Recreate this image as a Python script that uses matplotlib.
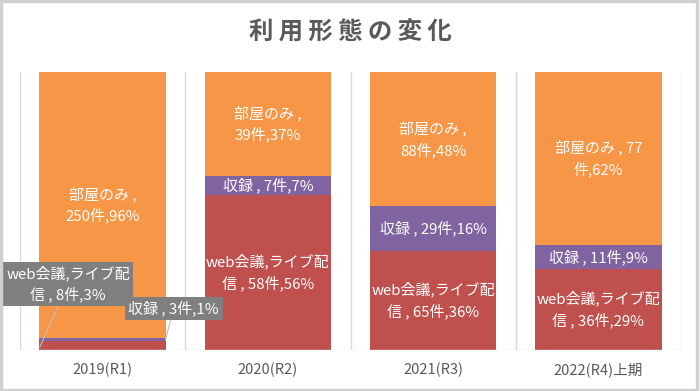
import numpy as np
import matplotlib.pyplot as plt
from matplotlib.patches import Rectangle

plt.rcParams['font.family'] = ['Noto Sans CJK JP', 'DejaVu Sans']

# data
years = ['2019(R1)', '2020(R2)', '2021(R3)', '2022(R4)上期']
series = ['web会議,ライブ配信', '収録', '部屋のみ']
web = [8, 58, 65, 36]
rec = [3, 7, 29, 11]
room = [250, 39, 88, 77]
web_pct = [3, 56, 36, 29]
rec_pct = [1, 7, 16, 9]
room_pct = [96, 37, 48, 62]

colors = ['#C0504D', '#8064A2', '#F79646']

# label text, wrapped the same way as the original
web_lbl = ['web会議,ライブ配\n信 , %d件,%d%%' % (v, p) for v, p in zip(web, web_pct)]
rec_lbl = ['収録 , %d件,%d%%' % (v, p) for v, p in zip(rec, rec_pct)]
room_lbl = ['部屋のみ ,\n%d件,%d%%' % (room[0], room_pct[0]),
            '部屋のみ ,\n%d件,%d%%' % (room[1], room_pct[1]),
            '部屋のみ ,\n%d件,%d%%' % (room[2], room_pct[2]),
            '部屋のみ , %d\n件,%d%%' % (room[3], room_pct[3])]

fig = plt.figure(figsize=(7, 3.91), dpi=100, facecolor='w')
ax = fig.add_axes([20/700, 1-350/391, 661/700, 278/391])

x = np.arange(len(years))
tot = np.array(web) + np.array(rec) + np.array(room)
w = 100 * np.array(web) / tot
r = 100 * np.array(rec) / tot
m = 100 * np.array(room) / tot

bw = 0.765
ax.bar(x, w, bw, color=colors[0], zorder=2)
ax.bar(x, r, bw, bottom=w, color=colors[1], zorder=2)
ax.bar(x, m, bw, bottom=w + r, color=colors[2], zorder=2)

ax.set_xlim(-0.5, 3.5)
ax.set_ylim(0, 100)
for b in np.arange(-0.5, 4, 1):
    ax.axvline(b, color='#D9D9D9', lw=1, zorder=1)
ax.axhline(0, color='#D9D9D9', lw=1, zorder=3)
for s in ax.spines.values():
    s.set_visible(False)
ax.set_yticks([])
ax.set_xticks(x)
ax.set_xticklabels(years, fontsize=10.5, color='#595959')
ax.tick_params(axis='x', length=0, pad=9)

fs = 10.8
tkw = dict(ha='center', va='center', color='white', fontsize=fs, linespacing=1.45, zorder=4)
for i in range(len(years)):
    ax.text(x[i], w[i] + r[i] + m[i] / 2, room_lbl[i], **tkw)
    if i > 0:
        ax.text(x[i], w[i] + r[i] / 2, rec_lbl[i], **tkw)
        ax.text(x[i], w[i] / 2, web_lbl[i], **tkw)

# 2019 small segments: callout boxes
box = dict(boxstyle='square,pad=0.25', fc='#7F7F7F', ec='none')
ln = dict(arrowstyle='-', color='#BFBFBF', lw=0.8, shrinkA=0, shrinkB=0)
ax.annotate(web_lbl[0], xy=(x[0] - 0.38, w[0] / 3), xytext=(-0.21, 23.7),
            ha='center', va='center', color='white', fontsize=fs, linespacing=1.45,
            bbox=box, arrowprops=ln, zorder=5)
ax.annotate(rec_lbl[0], xy=(x[0] + 0.38, w[0] + r[0] / 2), xytext=(0.43, 15.0),
            ha='center', va='center', color='white', fontsize=fs,
            bbox=box, arrowprops=ln, zorder=5)

fig.text(0.5, 1 - 33/391, '利 用 形 態 の 変 化', ha='center', va='center',
         fontsize=17.5, fontweight='bold', color='#595959')

fig.patches.append(Rectangle((0.002, 0.003), 0.994, 0.994, transform=fig.transFigure,
                             fill=False, ec='#D0D0D0', lw=2.5))

fig.savefig('out.png', dpi=100)
